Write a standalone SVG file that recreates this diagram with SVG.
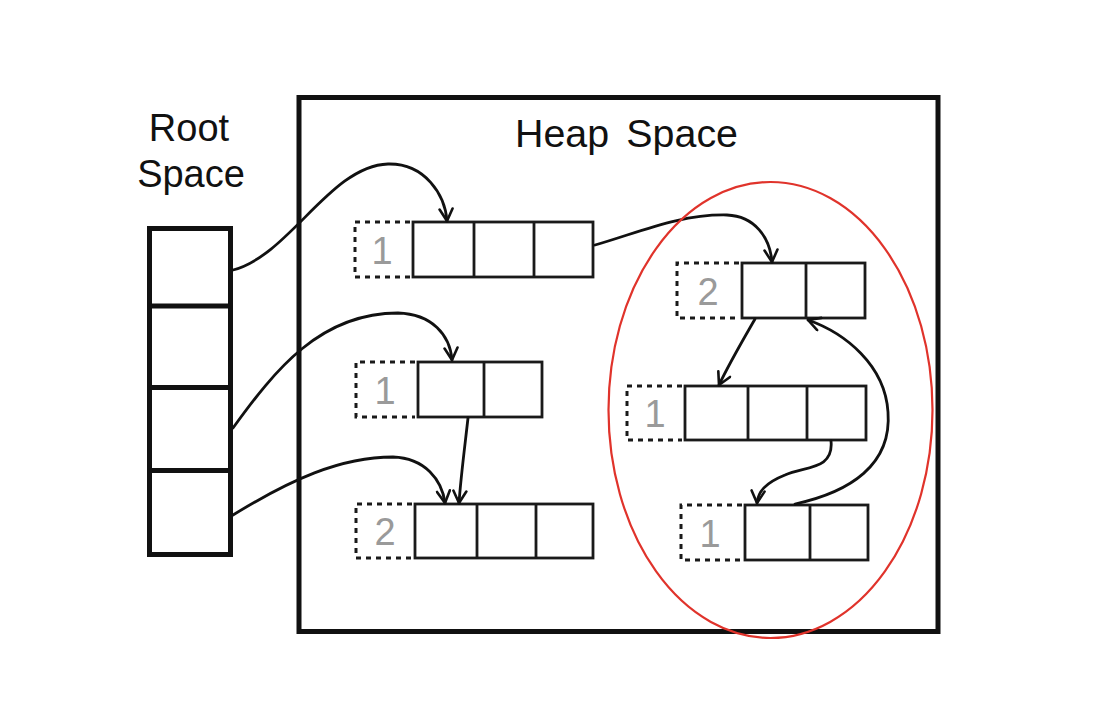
<svg xmlns="http://www.w3.org/2000/svg" width="1112" height="712" viewBox="0 0 1112 712">
<style>
.cell{fill:none;stroke:#1a1a1a;stroke-width:2.8}
.dash{fill:none;stroke:#1a1a1a;stroke-width:3;stroke-dasharray:5 5}
.num{font-family:"Liberation Sans",Arial,sans-serif;font-size:38px;fill:#9a9a9a;text-anchor:middle}
.lbl{font-family:"Liberation Sans",Arial,sans-serif;font-size:38px;fill:#111}
.con{fill:none;stroke:#111;stroke-width:2.8;stroke-linecap:round;marker-end:url(#arr)}
</style>
<defs>
<marker id="arr" markerUnits="userSpaceOnUse" viewBox="0 0 16 16" refX="14" refY="8" markerWidth="16" markerHeight="16" orient="auto">
<path d="M2,1.5 L14,8 L2,14.5" fill="none" stroke="#111" stroke-width="2.6" stroke-linecap="round" stroke-linejoin="round"/>
</marker>
</defs>
<rect width="1112" height="712" fill="#fff"/>

<g id="root-space">
<text class="lbl" x="189" y="141" text-anchor="middle">Root</text>
<text class="lbl" x="191" y="187" text-anchor="middle">Space</text>
<rect x="149.5" y="228.5" width="81" height="326" fill="none" stroke="#111" stroke-width="5"/>
<path d="M149.5,306 H230.5 M149.5,387.5 H230.5 M149.5,470.5 H230.5" stroke="#111" stroke-width="5" fill="none"/>
</g>

<g id="heap-space">
<rect x="299" y="97.5" width="639" height="534" fill="none" stroke="#111" stroke-width="5"/>
<text class="lbl" x="515" y="147" textLength="223" lengthAdjust="spacingAndGlyphs" font-size="37" word-spacing="6">Heap Space</text>
</g>

<g id="objA">
<path class="dash" d="M410,222 H355 V277 H410"/>
<rect class="cell" x="413" y="222" width="180" height="55"/>
<path class="cell" d="M474,222 V277 M534,222 V277"/>
<text class="num" x="382" y="264">1</text>
</g>

<g id="objB">
<path class="dash" d="M415,362 H356 V417 H415"/>
<rect class="cell" x="418" y="362" width="124" height="55"/>
<path class="cell" d="M484,362 V417"/>
<text class="num" x="385" y="404">1</text>
</g>

<g id="objC">
<path class="dash" d="M412,504 H356 V558 H412"/>
<rect class="cell" x="415" y="504" width="178" height="54"/>
<path class="cell" d="M477,504 V558 M536,504 V558"/>
<text class="num" x="385" y="545">2</text>
</g>

<g id="objD">
<path class="dash" d="M739,263 H677 V318 H739"/>
<rect class="cell" x="742" y="263" width="123" height="55"/>
<path class="cell" d="M806,263 V318"/>
<text class="num" x="708" y="305">2</text>
</g>

<g id="objE">
<path class="dash" d="M682,386 H627 V440 H682"/>
<rect class="cell" x="685" y="386" width="181" height="54"/>
<path class="cell" d="M748,386 V440 M807,386 V440"/>
<text class="num" x="655" y="427">1</text>
</g>

<g id="objF">
<path class="dash" d="M742,505 H681 V560 H742"/>
<rect class="cell" x="745" y="505" width="123" height="55"/>
<path class="cell" d="M810,505 V560"/>
<text class="num" x="710" y="547">1</text>
</g>

<g id="connectors">
<path class="con" d="M233,270 C290,255 330,166 388,164 C425,163 445,195 447,221"/>
<path class="con" d="M233,428 C275,370 320,313 398,313 C432,314 450,335 452,360"/>
<path class="con" d="M233,515 C290,480 340,457 393,457 C425,458 442,480 445,503"/>
<path class="con" d="M468,418 C465,445 461,475 459,503"/>
<path class="con" d="M595,245 C640,232 680,214 727,215 C755,216 770,238 772,262"/>
<path class="con" d="M755,319 C743,340 730,362 719,385"/>
<path class="con" d="M831,441 C834,470 805,466 785,475 C765,483 758,492 757,503"/>
<path class="con" d="M795,504 C850,492 892,465 888,412 C885,365 845,333 808,320"/>
</g>

<ellipse id="highlight" cx="770.5" cy="410" rx="162" ry="228" fill="none" stroke="#e0332b" stroke-width="2.2"/>
</svg>
